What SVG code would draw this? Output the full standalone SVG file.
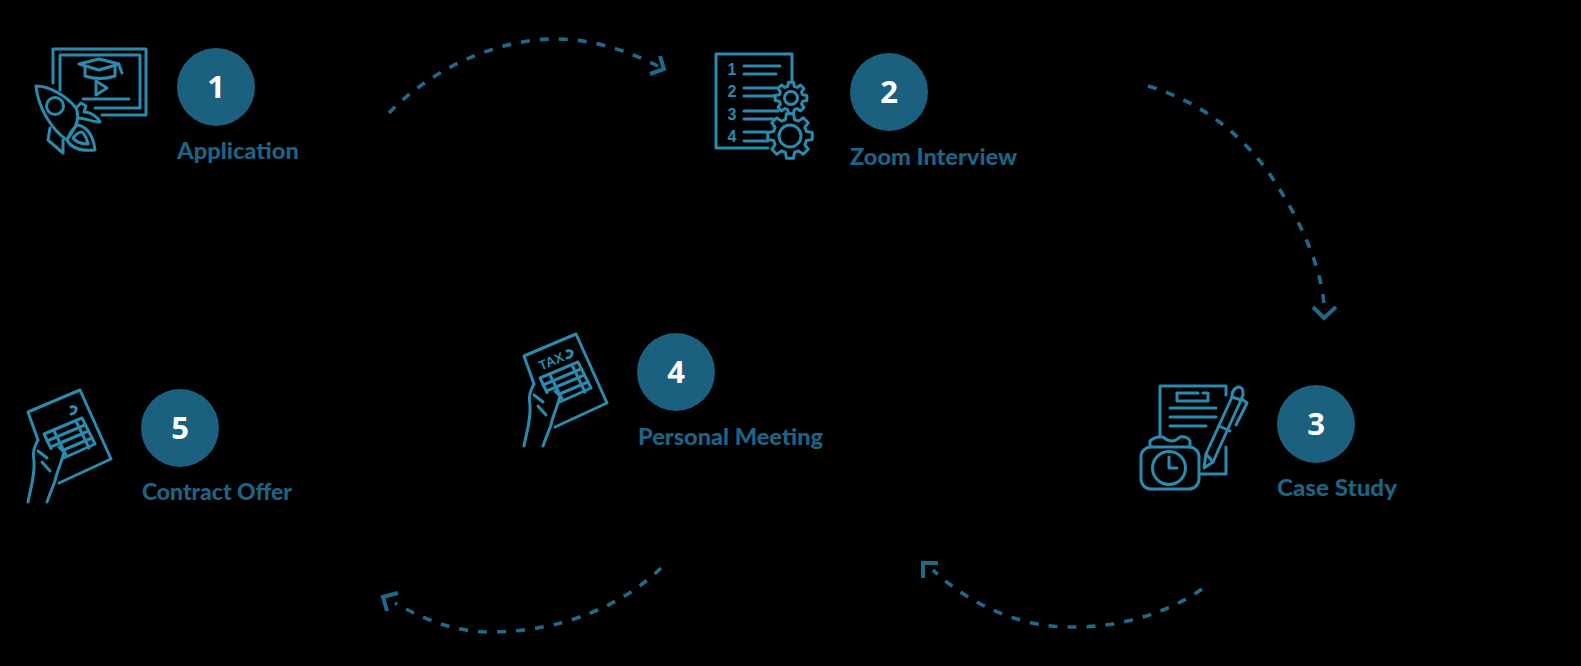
<svg xmlns="http://www.w3.org/2000/svg" xmlns:xlink="http://www.w3.org/1999/xlink" width="1581" height="666" viewBox="0 0 1581 666">
  <style>
    .badge { fill: #1b607f; }
    .num { fill: #ffffff; font: 700 31px "Open Sans", "Noto Sans", sans-serif; text-anchor: middle; }
    .label { fill: #1d6484; font: 900 22px "Lato", "Noto Sans", sans-serif; }
    .ico { fill: none; stroke: #2a8bae; stroke-width: 3; stroke-linecap: round; stroke-linejoin: round; }
    .ico-num { fill: #2a8bae; font: 700 16px "Liberation Sans", sans-serif; text-anchor: middle; }
    .flow { fill: none; stroke: #1f6a8a; stroke-width: 3.6; stroke-dasharray: 9 10; }
    .head { fill: none; stroke: #1f6a8a; stroke-width: 4; }
    .gear { fill: #000000; stroke: #2a8bae; stroke-width: 3; stroke-linejoin: round; vector-effect: non-scaling-stroke; }
  </style>
  <defs>
    <!-- eight-tooth gear on a radius of 100 -->
    <path id="cog" class="gear" d="M73 -20L99 -16L99 16L73 20L66 38L81 59L59 81L38 66L20 73L16 99L-16 99L-20 73L-38 66L-59 81L-81 59L-66 38L-73 20L-99 16L-99 -16L-73 -20L-66 -38L-81 -59L-59 -81L-38 -66L-20 -73L-16 -99L16 -99L20 -73L38 -66L59 -81L81 -59L66 -38Z"/>
    <!-- hand holding a form with a table -->
    <g id="form" class="ico">
      <path d="M534 384L524 356L576 334L607 403L555 427"/>
      <path d="M567 351Q573 350 572 354Q571 358 567 358"/>
      <path d="M540 378L578 362L591 388L553 405Z"/>
      <path d="M549.500 374L562.500 400M572 365L585 392"/>
      <path d="M543 385L581 369M546.500 391L584.500 375M550 398L588 382"/>
      <path d="M524 446L534 384L544 395L555 391L560 396L551 425L543 446Z" style="fill:#000;stroke:none"/>
      <path d="M524 446C527 430 531 420 530 405C528 395 531 390 534 384"/>
      <path d="M534 395L543 402M538 406L546 415"/>
      <path d="M555 391L560 396C558 405 552 418 551 425C548 433 545 440 543 446"/>
    </g>
  </defs>

  <rect width="1581" height="666" fill="#000000"/>

  <g id="connectors">
    <path class="flow" d="M389 113C425 75 490 39 555 39C595 39 630 52 658 66"/>
    <path class="head" d="M660 56L664 69L650 74"/>
    <path class="flow" d="M1148 86C1205 103 1250 140 1280 190C1305 230 1321 270 1324 304"/>
    <path class="head" d="M1313 307L1324 318L1336 307"/>
    <path class="flow" d="M1202 589C1165 615 1115 628 1070 627C1020 627 970 605 933 570"/>
    <path class="head" d="M938 563L923 563L923 578"/>
    <path class="flow" d="M661 568C625 603 565 632 490 632C455 632 425 620 395 603"/>
    <path class="head" d="M398 593L383 597L387 611"/>
  </g>

  <g id="node-1">
    <g class="ico">
      <path d="M53 83L53 49L146 49L146 115L102 115"/>
      <path d="M60 90L60 55L140 55L140 108L95 108"/>
      <path d="M83 99L129 99"/>
      <path d="M79 64L99 59L119 64L99 70Z"/>
      <path d="M85 67L85 76Q100 81 115 76L115 66"/>
      <path d="M119 65L122 73"/>
      <path d="M96 81L107 88L96 95Z"/>
      <path d="M36 86C48 86 66 95 76 108C81 120 74 130 67 140C52 130 38 108 36 86Z"/>
      <path d="M76 108L81 103L86 106L84 112C92 112 98 118 100 122C92 122 85 118 78 118"/>
      <circle cx="55" cy="106" r="8.5"/>
      <path d="M67 140C70 132 74 127 78 125C86 127 93 133 95 150C85 151 72 150 67 140Z"/>
      <path d="M73 138C76 134 79 132 82 132C85 135 87 139 88 144C82 144 76 142 73 138Z"/>
      <path d="M50 128L48 140L63 153L63 140"/>
    </g>
    <circle class="badge" cx="216" cy="87" r="39"/>
    <text class="num" x="216" y="98">1</text>
    <text class="label" x="177" y="159" textLength="122" lengthAdjust="spacingAndGlyphs">Application</text>
  </g>

  <g id="node-2">
    <g class="ico">
      <path d="M792 84L792 54L716 54L716 148L768 148"/>
      <path d="M744 66L780 66M744 74L776 74M744 88L778 88M744 96L775 96M744 111L778 111M744 119L773 119M744 132L767 132M744 141L768 141"/>
    </g>
    <text class="ico-num" x="732" y="75">1</text>
    <text class="ico-num" x="732" y="97">2</text>
    <text class="ico-num" x="732" y="120">3</text>
    <text class="ico-num" x="732" y="142">4</text>
    <use xlink:href="#cog" href="#cog" transform="translate(791 98) scale(.16)"/>
    <circle class="ico" cx="791" cy="98" r="6.5"/>
    <use xlink:href="#cog" href="#cog" transform="translate(790 136) scale(.225)"/>
    <circle class="ico" cx="790" cy="136" r="11"/>
    <circle class="badge" cx="889" cy="92" r="39"/>
    <text class="num" x="889" y="103">2</text>
    <text class="label" x="850" y="165" textLength="167" lengthAdjust="spacingAndGlyphs">Zoom Interview</text>
  </g>

  <g id="node-3">
    <g class="ico">
      <path d="M1160 437L1160 386L1226 386L1226 395M1226 447L1226 474L1200 474"/>
      <path d="M1198 393L1177 393L1177 401L1208 401L1208 393L1203 393"/>
      <path d="M1170 408L1216 408M1170 417L1216 417M1170 426L1206 426"/>
      <rect x="1141" y="447" width="58" height="42" rx="10"/>
      <path d="M1150 447L1150 441Q1156 436 1163 437Q1168 441 1172 441Q1176 441 1180 437Q1187 436 1190 441L1190 447"/>
      <circle cx="1169" cy="468" r="16.500"/>
      <path d="M1169 457L1169 468L1177 468"/>
      <path d="M1204 468L1206 454L1232 397Q1232 389 1238 387Q1244 387 1243 395L1241 400L1213 462Z"/>
      <path d="M1206 454L1213 462M1219 426L1230 431M1232 397L1241 400"/>
      <path d="M1243 400L1247 403L1236 425"/>
    </g>
    <circle class="badge" cx="1316" cy="424" r="39"/>
    <text class="num" x="1316" y="435">3</text>
    <text class="label" x="1277" y="496" textLength="120" lengthAdjust="spacingAndGlyphs">Case Study</text>
  </g>

  <g id="node-4">
    <use xlink:href="#form" href="#form"/>
    <text x="551" y="366" transform="rotate(-23 551 361)" text-anchor="middle" style="fill:#2a8bae;font:700 13.500px 'Liberation Sans',sans-serif">TAX</text>
    <circle class="badge" cx="676" cy="372" r="39"/>
    <text class="num" x="676" y="383">4</text>
    <text class="label" x="638" y="445" textLength="185" lengthAdjust="spacingAndGlyphs">Personal Meeting</text>
  </g>

  <g id="node-5">
    <use xlink:href="#form" href="#form" transform="translate(-496 56)"/>
    <circle class="badge" cx="180" cy="428" r="39"/>
    <text class="num" x="180" y="439">5</text>
    <text class="label" x="142" y="500" textLength="150" lengthAdjust="spacingAndGlyphs">Contract Offer</text>
  </g>
</svg>
